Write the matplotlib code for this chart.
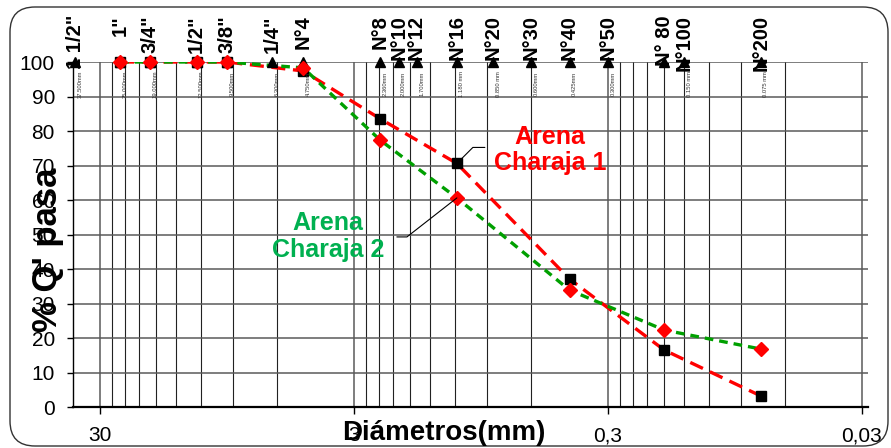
import matplotlib
matplotlib.use('Agg')
import matplotlib.pyplot as plt
from matplotlib.patches import FancyBboxPatch
from matplotlib.ticker import FixedLocator, FixedFormatter, NullFormatter

plt.rcParams['font.family'] = ['Liberation Sans', 'DejaVu Sans']

# ---------------- data ----------------
sieve_sizes = [37.5, 25, 19, 12.5, 9.5, 6.3, 4.75, 2.36, 2.0, 1.7, 1.18, 0.85,
               0.6, 0.425, 0.3, 0.18, 0.15, 0.075]
sieve_names = ['1 1/2"', '1"', '3/4"', '1/2"', '3/8"', '1/4"', 'N°4', 'N°8', 'N°10',
               'N°12', 'N°16', 'N°20', 'N°30', 'N°40', 'N°50', 'N° 80', 'N°100', 'N°200']
sieve_mm = ['37.500mm', '25.000mm', '19.000mm', '12.500mm', '9.500mm', '6.300mm',
            '4.750mm', '2.360mm', '2.000mm', '1.700mm', '1.180 mm', '0.850 mm',
            '0.600mm', '0.425mm', '0.300mm', '', '0.150 mm', '0.075 mm']

point_sizes = [25, 19, 12.5, 9.5, 4.75, 2.36, 1.18, 0.425, 0.18, 0.075]
charaja1 = [100, 100, 100, 100, 97.4, 83.5, 70.6, 37.1, 16.5, 3.2]
charaja2 = [100, 100, 100, 100, 98.3, 77.3, 60.6, 33.9, 22.3, 16.8]

xtick_values = [30, 3, 0.3, 0.03]
xtick_labels = ['30', '3', '0,3', '0,03']
ytick_values = [0, 10, 20, 30, 40, 50, 60, 70, 80, 90, 100]

RED = '#FF0000'
GREEN_LINE = '#00A000'
GREEN_TXT = '#00B050'

# ---------------- figure ----------------
W, H = 891, 448
fig = plt.figure(figsize=(W / 100, H / 100), dpi=100)
ax = fig.add_axes([73 / W, 41 / H, 795 / W, 345 / H])
ax.set_xscale('log')
ax.set_xlim(38.3, 0.02839)
ax.set_ylim(0, 100)

# grid (Excel style log grid based on 0.03)
minor_pos = [b * k for b in (0.03, 0.3, 3) for k in range(2, 10)]
ax.xaxis.set_major_locator(FixedLocator(xtick_values))
ax.xaxis.set_major_formatter(FixedFormatter(xtick_labels))
ax.xaxis.set_minor_locator(FixedLocator(minor_pos))
ax.xaxis.set_minor_formatter(NullFormatter())
ax.set_yticks(ytick_values)
ax.grid(True, which='major', axis='both', color='#5a5a5a', lw=1.1, zorder=0)
ax.grid(True, which='minor', axis='x', color='#222222', lw=0.8, zorder=0)
ax.set_axisbelow(True)

ax.tick_params(axis='x', which='major', direction='out', length=5, width=1,
               labelsize=15, pad=9)
ax.tick_params(axis='x', which='minor', length=0)
ax.tick_params(axis='y', direction='out', length=4, width=1, labelsize=15, pad=9)

for s in ('top', 'right'):
    ax.spines[s].set_visible(False)
ax.spines['left'].set_linewidth(1.0)
ax.spines['bottom'].set_linewidth(1.6)

# ---------------- series ----------------
ax.plot(point_sizes, charaja1, color=RED, lw=2.4, dashes=(4.2, 2.3), zorder=3)
ax.plot(point_sizes, charaja2, color=GREEN_LINE, lw=2.4, dashes=(2.6, 1.8), zorder=4)

ax.plot(sieve_sizes, [100] * len(sieve_sizes), '^', color='black', ms=7,
        clip_on=False, zorder=5)
ax.plot(point_sizes, charaja1, 's', color='black', ms=7, clip_on=False, zorder=6)
ax.plot(point_sizes, charaja2, 'D', color=RED, ms=7, clip_on=False, zorder=7)

# ---------------- sieve labels ----------------
xtrans = ax.get_xaxis_transform()
for s, name, mm in zip(sieve_sizes, sieve_names, sieve_mm):
    ax.annotate(name, xy=(s, 1), xycoords=xtrans, xytext=(0, 47),
                textcoords='offset pixels', rotation=90, ha='center', va='top',
                fontsize=14.5, fontweight='bold', annotation_clip=False, zorder=8)
    if mm:
        ax.annotate(mm, xy=(s, 1), xycoords=xtrans, xytext=(5, -22),
                    textcoords='offset pixels', rotation=90, ha='center',
                    va='center', fontsize=4.2, color='#333333',
                    annotation_clip=False, zorder=8)

# ---------------- series annotations ----------------
ax.text(0.600, 0.745, 'Arena\nCharaja 1', transform=ax.transAxes, color=RED,
        fontsize=18, fontweight='bold', ha='center', va='center',
        linespacing=1.15, zorder=9)
ax.text(0.321, 0.493, 'Arena\nCharaja 2', transform=ax.transAxes, color=GREEN_TXT,
        fontsize=18, fontweight='bold', ha='center', va='center',
        linespacing=1.15, zorder=9)

ax.annotate('', xy=(point_sizes[6], charaja1[6]), xytext=(28, 16),
            textcoords='offset pixels',
            arrowprops=dict(arrowstyle='-', lw=0.8, color='black',
                            connectionstyle='angle,angleA=0,angleB=45,rad=0',
                            shrinkA=0, shrinkB=0), zorder=9)
ax.annotate('', xy=(point_sizes[6], charaja2[6]), xytext=(-60, -39),
            textcoords='offset pixels',
            arrowprops=dict(arrowstyle='-', lw=0.8, color='black',
                            connectionstyle='angle,angleA=0,angleB=38,rad=0',
                            shrinkA=0, shrinkB=0), zorder=9)

# ---------------- axis titles ----------------
fig.text(48 / W, 1 - 250 / H, "% Q' pasa", rotation=90, ha='center', va='center',
         fontsize=25, fontweight='bold')
fig.text(444 / W, 1 - 433 / H, 'Diámetros(mm)', ha='center', va='center',
         fontsize=20, fontweight='bold')

# ---------------- chart frame ----------------
frame = FancyBboxPatch((10, 2), 878, 439, boxstyle='round,pad=0,rounding_size=25',
                       transform=None, fill=False, edgecolor='#333333', lw=1.0)
fig.add_artist(frame)

fig.savefig('out.png', dpi=100)
